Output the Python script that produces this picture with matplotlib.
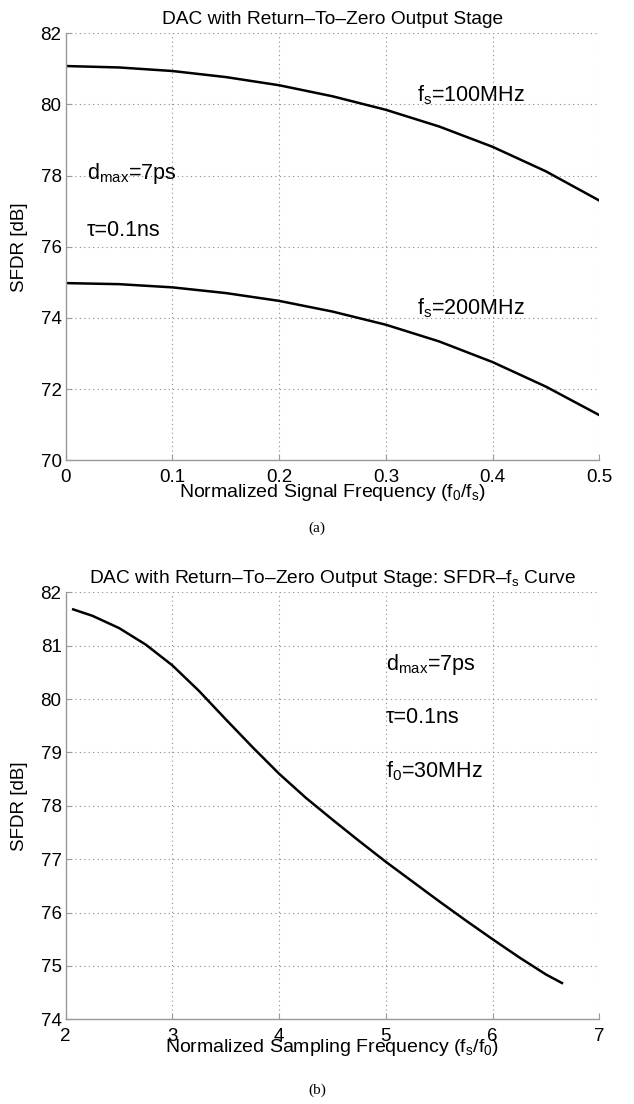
import matplotlib
matplotlib.use("Agg")
import matplotlib.pyplot as plt

plt.rcParams['font.family'] = ['Liberation Sans', 'DejaVu Sans']
plt.rcParams['mathtext.fontset'] = 'custom'
plt.rcParams['mathtext.rm'] = 'Liberation Sans'
plt.rcParams['mathtext.it'] = 'Liberation Sans'
plt.rcParams['mathtext.default'] = 'regular'

# Panel (a): SFDR vs normalized signal frequency
fa_norm = [0.0, 0.05, 0.1, 0.15, 0.2, 0.25, 0.3, 0.35, 0.4, 0.45, 0.5]
sfdr_100 = [81.08, 81.04, 80.94, 80.77, 80.54, 80.23, 79.85, 79.38, 78.81, 78.12, 77.30]
sfdr_200 = [74.98, 74.95, 74.86, 74.70, 74.48, 74.18, 73.81, 73.34, 72.76, 72.07, 71.27]

# Panel (b): SFDR vs normalized sampling frequency
fb_norm = [2.07, 2.25, 2.5, 2.75, 3.0, 3.25, 3.5, 3.75, 4.0, 4.25, 4.5, 4.75,
           5.0, 5.25, 5.5, 5.75, 6.0, 6.25, 6.5, 6.65]
sfdr_b = [81.68, 81.56, 81.33, 81.02, 80.63, 80.15, 79.62, 79.10, 78.60, 78.15, 77.74, 77.34,
          76.95, 76.58, 76.21, 75.85, 75.50, 75.16, 74.84, 74.68]

xticks_a = [0, 0.1, 0.2, 0.3, 0.4, 0.5]
xticklabels_a = ['0', '0.1', '0.2', '0.3', '0.4', '0.5']
yticks_a = [70, 72, 74, 76, 78, 80, 82]
xticks_b = [2, 3, 4, 5, 6, 7]
yticks_b = [74, 75, 76, 77, 78, 79, 80, 81, 82]

fig = plt.figure(figsize=(6.34, 11.04), dpi=100)
W, H = 634, 1104

def make_axes(top_px, bot_px):
    left_px, right_px = 65.7, 599.3
    return fig.add_axes([left_px / W, 1 - bot_px / H, (right_px - left_px) / W, (bot_px - top_px) / H])

def style(ax):
    for s in ['top', 'right']:
        ax.spines[s].set_visible(False)
    for s in ['left', 'bottom']:
        ax.spines[s].set_color('#9a9a9a')
        ax.spines[s].set_linewidth(1.0)
    ax.grid(True, linestyle=(0, (1, 3)), color='#8a8a8a', linewidth=0.8)
    ax.tick_params(direction='in', length=4, width=0.8, color='#9a9a9a', labelsize=13.5)
    ax.tick_params(axis='x', pad=6)
    ax.tick_params(axis='y', pad=3)

ann = 15.5

ax1 = make_axes(33.3, 460.3)
ax1.plot(fa_norm, sfdr_100, color='black', lw=1.8)
ax1.plot(fa_norm, sfdr_200, color='black', lw=1.8)
ax1.set_xlim(0, 0.5)
ax1.set_ylim(70, 82)
ax1.set_xticks(xticks_a)
ax1.set_xticklabels(xticklabels_a)
ax1.set_yticks(yticks_a)
style(ax1)
ax1.set_title('DAC with Return–To–Zero Output Stage', fontsize=13.8, pad=7)
ax1.set_xlabel('Normalized Signal Frequency (f$_0$/f$_s$)', fontsize=14)
ax1.xaxis.set_label_coords(0.5, -0.05)
ax1.set_ylabel('SFDR [dB]', fontsize=13.5)
ax1.yaxis.set_label_coords(-0.07, 0.5)
ax1.text(0.329, 80.1, 'f$_s$=100MHz', fontsize=ann, va='baseline')
ax1.text(0.329, 74.1, 'f$_s$=200MHz', fontsize=ann, va='baseline')
ax1.text(0.02, 77.9, 'd$_{max}$=7ps', fontsize=ann, va='baseline')
ax1.text(0.02, 76.3, 'τ=0.1ns', fontsize=ann, va='baseline')

ax2 = make_axes(592.3, 1019.3)
ax2.plot(fb_norm, sfdr_b, color='black', lw=1.8)
ax2.set_xlim(2, 7)
ax2.set_ylim(74, 82)
ax2.set_xticks(xticks_b)
ax2.set_yticks(yticks_b)
style(ax2)
ax2.set_title('DAC with Return–To–Zero Output Stage: SFDR–f$_s$ Curve', fontsize=13.8, pad=7)
ax2.set_xlabel('Normalized Sampling Frequency (f$_s$/f$_0$)', fontsize=14)
ax2.xaxis.set_label_coords(0.5, -0.042)
ax2.set_ylabel('SFDR [dB]', fontsize=13.5)
ax2.yaxis.set_label_coords(-0.07, 0.5)
ax2.text(5.0, 80.54, 'd$_{max}$=7ps', fontsize=ann, va='baseline')
ax2.text(5.0, 79.55, 'τ=0.1ns', fontsize=ann, va='baseline')
ax2.text(5.0, 78.54, 'f$_0$=30MHz', fontsize=ann, va='baseline')

fig.text(317 / W, 1 - 528 / H, '(a)', fontsize=11, family='Liberation Serif', ha='center', va='center')
fig.text(317 / W, 1 - 1090 / H, '(b)', fontsize=11, family='Liberation Serif', ha='center', va='center')

fig.savefig('out.png', dpi=100)
